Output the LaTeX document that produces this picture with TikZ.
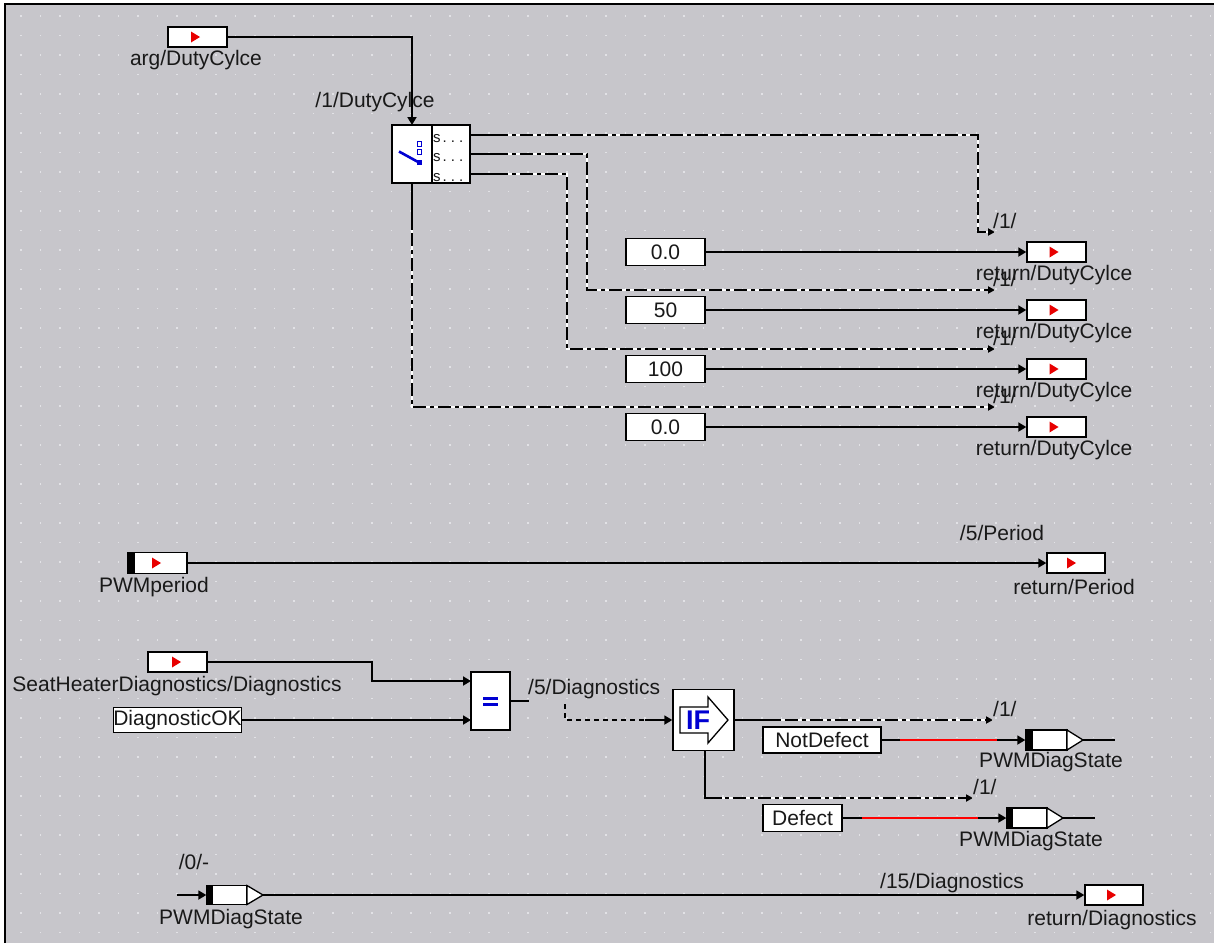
\documentclass[tikz,border=0pt]{standalone}
\usepackage{fontspec}
\setmainfont{Liberation Sans}
\usetikzlibrary{arrows.meta,calc}
\definecolor{bg}{RGB}{199,198,203}
\definecolor{dotc}{RGB}{226,226,230}
\definecolor{mred}{RGB}{232,0,0}
\definecolor{iblue}{RGB}{0,0,210}
\definecolor{txt}{RGB}{25,25,25}
\tikzset{
  wire/.style={line width=1.8pt, draw=black},
  arr/.style={-{Triangle[length=8pt,width=9pt]}},
  sarr/.style={-{Triangle[length=7pt,width=7pt]}},
  dd/.style={preaction={draw=white, line width=1.8pt, solid, -}, dash pattern=on 13pt off 4pt on 4pt off 4pt},
  fdash/.style={dash pattern=on 5pt off 4pt},
  blk/.style={draw=black, line width=1.4pt, fill=white, inner sep=0pt},
  lbl/.style={font=\fontsize{21}{25}\selectfont, inner sep=0pt, text=txt},
  small/.style={font=\fontsize{15}{16}\selectfont, inner sep=0pt, text=txt},
  redmk/.pic={\fill[mred] (-4,-5.5) -- (5,0) -- (-4,5.5) -- cycle;},
  redwire/.style={draw=red, line width=1.8pt}
}
\begin{document}
\begin{tikzpicture}[x=1pt,y=-1pt]
\useasboundingbox (0,0) rectangle (1214,943);
\fill[white] (0,0) rectangle (1214,943);
\fill[bg] (6,5) rectangle (1214,943);
\foreach \i in {0,...,61}{\foreach \j in {0,...,47}{\fill[dotc] ({20+19.5*\i},{15+19.5*\j}) rectangle ++(1.6,1.6);}}
\draw[line width=2pt] (5,943) -- (5,4) -- (1214,4);

% ---------- coordinates of ports ----------
\coordinate (swin) at (412,125);
\coordinate (swb) at (412,183);
\coordinate (t1) at (995,232);
\coordinate (t2) at (995,290);
\coordinate (t3) at (995,349);
\coordinate (t4) at (995,407);
\coordinate (eqin1) at (471,681);
\coordinate (eqin2) at (471,720);
\coordinate (t5) at (993,720);
\coordinate (t6) at (973,798);
\coordinate (in3) at (177,895);

% ---------- wires (drawn first) ----------
\draw[wire, arr] (197.5,37) ++(29.5,0) coordinate (argE) -| (swin);
% switch outputs
\draw[wire, dd, sarr] (470,135) -- (978,135) -- (978,232) -- (t1);
\draw[wire] (470,135) -- ++(36,0);
\draw[wire, dd, sarr] (470,154) -- (587,154) -- (587,290) -- (t2);
\draw[wire] (470,154) -- ++(36,0);
\draw[wire, dd, sarr] (470,174) -- (567,174) -- (567,349) -- (t3);
\draw[wire] (470,174) -- ++(36,0);
\draw[wire, dd, sarr] (swb) -- (412,407) -- (t4);
\draw[wire] (swb) -- (412,230);

% ---------- switch block ----------
\node[blk, minimum width=78pt, minimum height=58pt] (sw) at (431,154) {};
\draw[line width=1.4pt] (432,125) -- (432,183);
\draw[iblue, line width=2.6pt] (399,151.5) -- (419,162.5);
\fill[iblue] (416.5,159.5) rectangle (422,165);
\draw[iblue, line width=1.1pt] (417.3,141.8) rectangle (421.5,146.3);
\draw[iblue, line width=1.1pt] (417.3,149.8) rectangle (421.5,154.3);
\begin{scope}
\clip (433,126) rectangle (469,182);
\node[small, anchor=west] (s1) at (433,139) {s\hspace{2pt}.\hspace{4pt}.\hspace{4pt}.};
\node[small, anchor=west] (s2) at (433,158) {s\hspace{2pt}.\hspace{4pt}.\hspace{4pt}.};
\node[small, anchor=west] (s3) at (433,178) {s\hspace{2pt}.\hspace{4pt}.\hspace{4pt}.};
\end{scope}

% ---------- arg input ----------
\node[blk, minimum width=59pt, minimum height=20pt] (argIn) at (197.5,37) {};
\pic at (195,37) {redmk};
\node[lbl] (argL) at (196,60) {arg/DutyCylce};
\node[lbl] (swL) at (375,102) {/1/DutyCylce};

% ---------- constants and returns ----------
\node[blk, lbl, minimum width=79pt, minimum height=27pt] (c1) at (665.5,252) {0.0};
\node[blk, lbl, minimum width=79pt, minimum height=27pt] (c2) at (665.5,310) {50};
\node[blk, lbl, minimum width=79pt, minimum height=27pt] (c3) at (665.5,369) {100};
\node[blk, lbl, minimum width=79pt, minimum height=27pt] (c4) at (665.5,427) {0.0};
\node[blk, minimum width=59pt, minimum height=20pt] (r1) at (1056.5,252) {};
\node[blk, minimum width=59pt, minimum height=20pt] (r2) at (1056.5,310) {};
\node[blk, minimum width=59pt, minimum height=20pt] (r3) at (1056.5,369) {};
\node[blk, minimum width=59pt, minimum height=20pt] (r4) at (1056.5,427) {};
\foreach \n in {1,2,3,4}{\draw[wire, arr] (c\n.east) -- (r\n.west); \pic at ($(r\n.center)+(-3,0)$) {redmk};}
\node[lbl] (rl1) at (1054,275) {return/DutyCylce};
\node[lbl] (rl2) at (1054,333.5) {return/DutyCylce};
\node[lbl] (rl3) at (1054,392) {return/DutyCylce};
\node[lbl] (rl4) at (1054,450.5) {return/DutyCylce};
\node[lbl, anchor=west] (k1) at (993,221) {/1/};
\node[lbl, anchor=west] (k2) at (993,279) {/1/};
\node[lbl, anchor=west] (k3) at (993,338) {/1/};
\node[lbl, anchor=west] (k4) at (993,396) {/1/};

% ---------- period ----------
\node[blk, minimum width=59pt, minimum height=21pt] (pwmIn) at (157.5,563) {};
\fill (128,552.5) rectangle (135,573.5);
\pic at (156,563) {redmk};
\node[blk, minimum width=58pt, minimum height=20pt] (retPer) at (1076,563) {};
\pic at (1071,563) {redmk};
\draw[wire, arr] (pwmIn.east) -- (retPer.west);
\node[lbl] (pl1) at (154,587) {PWMperiod};
\node[lbl] (pl2) at (1002,533) {/5/Period};
\node[lbl] (pl3) at (1074,587) {return/Period};

% ---------- diagnostics ----------
\node[blk, minimum width=59pt, minimum height=20pt] (seatIn) at (177.5,662) {};
\pic at (176,662) {redmk};
\node[lbl] (seatL) at (177,686) {SeatHeaterDiagnostics/Diagnostics};
\node[blk, lbl, minimum width=119pt, minimum height=25pt] (diagOK) at (177.5,720) {DiagnosticOK};
\node[blk, minimum width=39pt, minimum height=58pt] (eq) at (490.5,701) {};
\fill[iblue] (482.5,696.5) rectangle (497.5,699.5);
\fill[iblue] (482.5,703) rectangle (497.5,706);
\draw[wire, arr] (seatIn.east) -- (372,662) -- (372,681) -- (eqin1);
\draw[wire, arr] (diagOK.east) -- (eqin2);
\draw[wire] (eq.east) -- (529,701);
\draw[wire, fdash] (565,704) -- (565,720) -- (648,720);
\node[blk, minimum width=61pt, minimum height=61pt] (ifb) at (703.5,720) {};
\draw[wire, arr] (645,720) -- (ifb.west);
\node[lbl, anchor=west] (dl) at (528,689) {/5/Diagnostics};
\draw[line width=1.3pt, fill=white] (680,707) -- (708,707) -- (708,697) -- (728,720) -- (708,743) -- (708,733) -- (680,733) -- cycle;
\node[font=\bfseries\fontsize{27}{27}\selectfont, text=iblue, inner sep=0pt] (ift) at (698,720) {IF};

% IF outputs
\draw[wire, dd, sarr] (ifb.east) -- (t5);
\draw[wire] (ifb.east) -- ++(46,0);
\draw[wire, dd, sarr] (705,750.5) -- (705,798) -- (t6);
\draw[wire] (705,750.5) -- (705,798) -- (722,798);
\node[lbl, anchor=west] (k5) at (993,709) {/1/};
\node[lbl, anchor=west] (k6) at (973,787) {/1/};

% NotDefect branch
\node[blk, lbl, minimum width=118pt, minimum height=26pt] (notDef) at (822,740) {NotDefect};
\node[blk, minimum width=41pt, minimum height=20pt] (o1) at (1046.5,740) {};
\fill (1026,730) rectangle (1033,750);
\draw[line width=1.3pt, fill=white] (1067,730) -- (1083,740) -- (1067,750) -- cycle;
\coordinate (o1tip) at (1083,740);
\draw[wire, arr] (notDef.east) -- (o1.west);
\draw[redwire] (900,740) -- (997,740);
\draw[wire] (o1tip) -- (1115,740);
\node[lbl] (ol1) at (1051,762) {PWMDiagState};

% Defect branch
\node[blk, lbl, minimum width=79pt, minimum height=27pt] (def) at (802.5,818) {Defect};
\node[blk, minimum width=40pt, minimum height=20pt] (o2) at (1027,818) {};
\fill (1007,808) rectangle (1013,828);
\draw[line width=1.3pt, fill=white] (1047,808) -- (1063,818) -- (1047,828) -- cycle;
\coordinate (o2tip) at (1063,818);
\draw[wire, arr] (def.east) -- (o2.west);
\draw[redwire] (862,818) -- (978,818);
\draw[wire] (o2tip) -- (1095,818);
\node[lbl] (ol2) at (1031,841) {PWMDiagState};

% ---------- bottom row ----------
\node[blk, minimum width=40pt, minimum height=19pt] (o3) at (227,895) {};
\fill (207,885.5) rectangle (213,904.5);
\draw[line width=1.3pt, fill=white] (247,885.5) -- (263,895) -- (247,904.5) -- cycle;
\coordinate (o3tip) at (263,895);
\node[blk, minimum width=58pt, minimum height=20pt] (retDiag) at (1114,895) {};
\pic at (1111,895) {redmk};
\draw[wire, arr] (in3 |- o3.west) -- (o3.west);
\draw[wire, arr] (o3tip) -- (retDiag.west);
\node[lbl] (bl1) at (194,862) {/0/-};
\node[lbl] (bl2) at (231,919) {PWMDiagState};
\node[lbl] (bl3) at (952,883) {/15/Diagnostics};
\node[lbl] (bl4) at (1112,920) {return/Diagnostics};
\end{tikzpicture}
\end{document}
